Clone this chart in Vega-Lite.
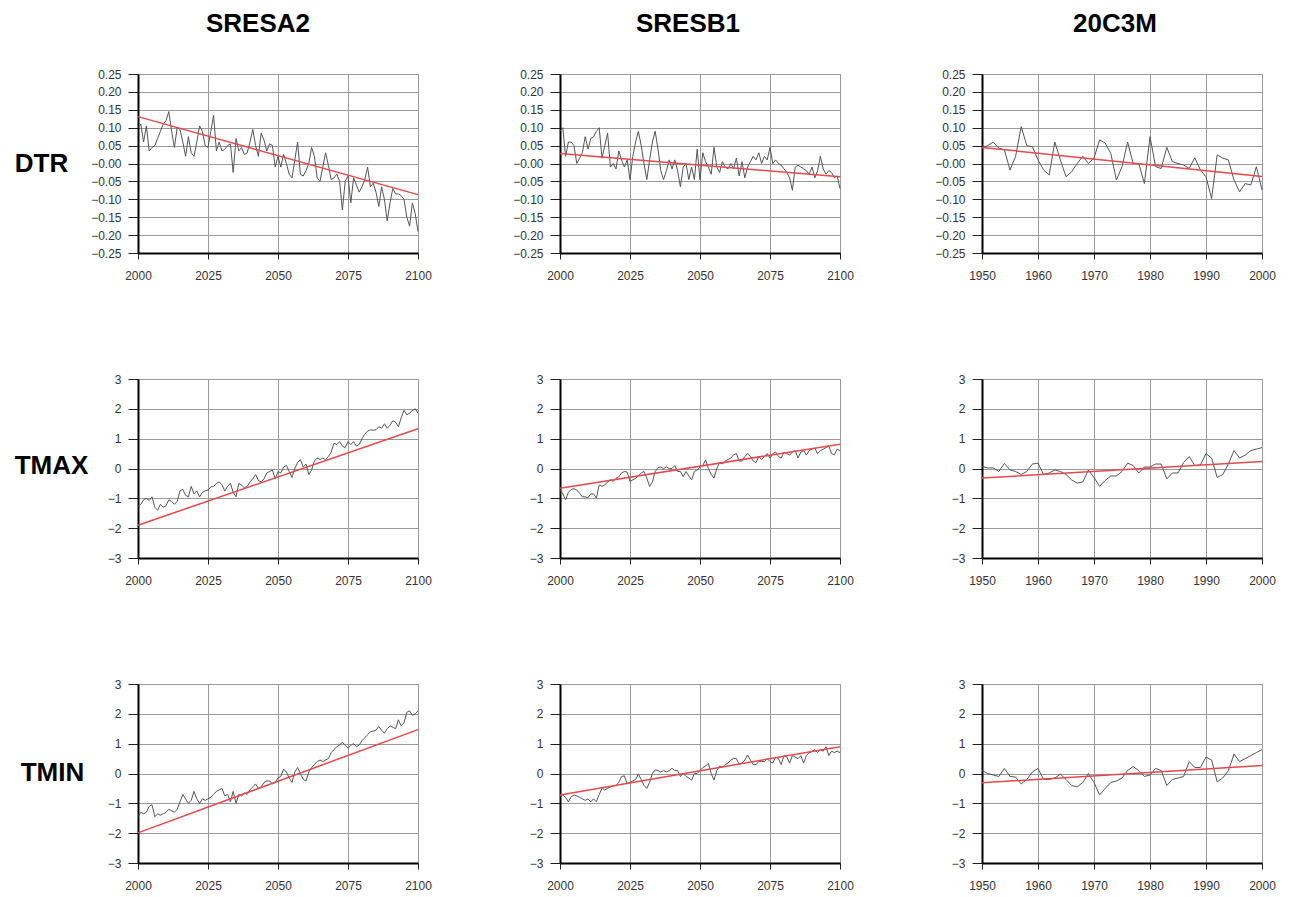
{
"$schema":"https://vega.github.io/schema/vega-lite/v6.json",
"padding":{"left":13,"top":10,"right":5,"bottom":2},
"background":"white",
"columns":3,
"bounds":"flush",
"spacing":{"row":126,"column":142},
"config":{
 "font":"Liberation Sans",
 "view":{"stroke":"#9a9a9a","strokeWidth":1},
 "axis":{"domainColor":"#000","domainWidth":2,"tickColor":"#222","tickWidth":1,"labelColor":"#333","labelFontSize":12,"labelFont":"Liberation Sans","gridColor":"#9a9a9a","gridWidth":1,"grid":true,"labelOverlap":false,"labelFlush":false,"titleFont":"Liberation Sans"},
 "axisX":{"tickSize":6,"labelPadding":11},
 "axisY":{"tickSize":10,"labelPadding":7},
 "title":{"fontSize":26,"fontWeight":"bold","font":"Liberation Sans","color":"#000","offset":31,"frame":"group","anchor":"middle"}
},
"datasets":{
"a2dtr":[{"year":2000,"value":0.10},{"year":2001,"value":0.11},{"year":2002,"value":0.06},{"year":2003,"value":0.105},{"year":2004,"value":0.035},{"year":2005,"value":0.045},{"year":2006,"value":0.05},{"year":2007,"value":0.07},{"year":2008,"value":0.09},{"year":2009,"value":0.11},{"year":2010,"value":0.12},{"year":2011,"value":0.145},{"year":2012,"value":0.09},{"year":2013,"value":0.045},{"year":2014,"value":0.10},{"year":2015,"value":0.095},{"year":2016,"value":0.06},{"year":2017,"value":0.02},{"year":2018,"value":0.075},{"year":2019,"value":0.03},{"year":2020,"value":0.02},{"year":2021,"value":0.06},{"year":2022,"value":0.105},{"year":2023,"value":0.09},{"year":2024,"value":0.05},{"year":2025,"value":0.045},{"year":2026,"value":0.09},{"year":2027,"value":0.135},{"year":2028,"value":0.035},{"year":2029,"value":0.06},{"year":2030,"value":0.035},{"year":2031,"value":0.04},{"year":2032,"value":0.05},{"year":2033,"value":0.055},{"year":2034,"value":-0.025},{"year":2035,"value":0.07},{"year":2036,"value":0.035},{"year":2037,"value":0.045},{"year":2038,"value":0.025},{"year":2039,"value":0.03},{"year":2040,"value":0.06},{"year":2041,"value":0.095},{"year":2042,"value":0.05},{"year":2043,"value":0.02},{"year":2044,"value":0.085},{"year":2045,"value":0.065},{"year":2046,"value":0.035},{"year":2047,"value":0.055},{"year":2048,"value":0.05},{"year":2049,"value":-0.01},{"year":2050,"value":0.02},{"year":2051,"value":-0.01},{"year":2052,"value":0.025},{"year":2053,"value":0.0},{"year":2054,"value":-0.03},{"year":2055,"value":-0.04},{"year":2056,"value":0.01},{"year":2057,"value":0.06},{"year":2058,"value":-0.03},{"year":2059,"value":-0.035},{"year":2060,"value":-0.02},{"year":2061,"value":0.0},{"year":2062,"value":0.045},{"year":2063,"value":0.02},{"year":2064,"value":-0.04},{"year":2065,"value":-0.05},{"year":2066,"value":-0.01},{"year":2067,"value":0.03},{"year":2068,"value":-0.005},{"year":2069,"value":-0.045},{"year":2070,"value":-0.04},{"year":2071,"value":-0.03},{"year":2072,"value":-0.05},{"year":2073,"value":-0.13},{"year":2074,"value":-0.05},{"year":2075,"value":-0.035},{"year":2076,"value":-0.11},{"year":2077,"value":-0.04},{"year":2078,"value":-0.06},{"year":2079,"value":-0.08},{"year":2080,"value":-0.065},{"year":2081,"value":-0.045},{"year":2082,"value":-0.01},{"year":2083,"value":-0.065},{"year":2084,"value":-0.055},{"year":2085,"value":-0.08},{"year":2086,"value":-0.12},{"year":2087,"value":-0.065},{"year":2088,"value":-0.10},{"year":2089,"value":-0.16},{"year":2090,"value":-0.11},{"year":2091,"value":-0.07},{"year":2092,"value":-0.085},{"year":2093,"value":-0.085},{"year":2094,"value":-0.09},{"year":2095,"value":-0.10},{"year":2096,"value":-0.15},{"year":2097,"value":-0.175},{"year":2098,"value":-0.11},{"year":2099,"value":-0.14},{"year":2100,"value":-0.19}],
"b1dtr":[{"year":2000,"value":0.09},{"year":2001,"value":0.10},{"year":2002,"value":0.02},{"year":2003,"value":0.06},{"year":2004,"value":0.06},{"year":2005,"value":0.05},{"year":2006,"value":0.0},{"year":2007,"value":0.015},{"year":2008,"value":0.03},{"year":2009,"value":0.075},{"year":2010,"value":0.04},{"year":2011,"value":0.07},{"year":2012,"value":0.075},{"year":2013,"value":0.09},{"year":2014,"value":0.10},{"year":2015,"value":0.015},{"year":2016,"value":0.05},{"year":2017,"value":0.085},{"year":2018,"value":-0.01},{"year":2019,"value":0.0},{"year":2020,"value":-0.015},{"year":2021,"value":0.035},{"year":2022,"value":0.01},{"year":2023,"value":-0.01},{"year":2024,"value":0.01},{"year":2025,"value":-0.045},{"year":2026,"value":0.02},{"year":2027,"value":0.06},{"year":2028,"value":0.09},{"year":2029,"value":0.05},{"year":2030,"value":0.0},{"year":2031,"value":-0.045},{"year":2032,"value":0.01},{"year":2033,"value":0.06},{"year":2034,"value":0.09},{"year":2035,"value":0.04},{"year":2036,"value":-0.02},{"year":2037,"value":-0.045},{"year":2038,"value":-0.02},{"year":2039,"value":0.01},{"year":2040,"value":-0.015},{"year":2041,"value":0.01},{"year":2042,"value":-0.02},{"year":2043,"value":-0.065},{"year":2044,"value":-0.01},{"year":2045,"value":0.0},{"year":2046,"value":-0.045},{"year":2047,"value":-0.01},{"year":2048,"value":-0.045},{"year":2049,"value":0.04},{"year":2050,"value":-0.045},{"year":2051,"value":0.03},{"year":2052,"value":0.005},{"year":2053,"value":-0.01},{"year":2054,"value":-0.03},{"year":2055,"value":0.045},{"year":2056,"value":-0.01},{"year":2057,"value":-0.025},{"year":2058,"value":0.005},{"year":2059,"value":-0.01},{"year":2060,"value":-0.015},{"year":2061,"value":0.0},{"year":2062,"value":-0.015},{"year":2063,"value":0.015},{"year":2064,"value":-0.035},{"year":2065,"value":0.005},{"year":2066,"value":-0.04},{"year":2067,"value":-0.01},{"year":2068,"value":0.005},{"year":2069,"value":0.02},{"year":2070,"value":0.01},{"year":2071,"value":0.03},{"year":2072,"value":0.0},{"year":2073,"value":0.02},{"year":2074,"value":0.01},{"year":2075,"value":0.045},{"year":2076,"value":0.0},{"year":2077,"value":0.01},{"year":2078,"value":0.0},{"year":2079,"value":-0.005},{"year":2080,"value":-0.015},{"year":2081,"value":-0.025},{"year":2082,"value":-0.04},{"year":2083,"value":-0.075},{"year":2084,"value":-0.01},{"year":2085,"value":-0.005},{"year":2086,"value":-0.01},{"year":2087,"value":-0.015},{"year":2088,"value":-0.02},{"year":2089,"value":-0.03},{"year":2090,"value":-0.01},{"year":2091,"value":-0.04},{"year":2092,"value":-0.02},{"year":2093,"value":0.02},{"year":2094,"value":-0.015},{"year":2095,"value":-0.03},{"year":2096,"value":-0.02},{"year":2097,"value":-0.025},{"year":2098,"value":-0.04},{"year":2099,"value":-0.035},{"year":2100,"value":-0.07}],
"c3dtr":[{"year":1950,"value":0.043},{"year":1951,"value":0.05},{"year":1952,"value":0.06},{"year":1953,"value":0.043},{"year":1954,"value":0.038},{"year":1955,"value":-0.018},{"year":1956,"value":0.02},{"year":1957,"value":0.103},{"year":1958,"value":0.05},{"year":1959,"value":0.047},{"year":1960,"value":0.01},{"year":1961,"value":-0.018},{"year":1962,"value":-0.032},{"year":1963,"value":0.06},{"year":1964,"value":0.01},{"year":1965,"value":-0.037},{"year":1966,"value":-0.023},{"year":1967,"value":0.0},{"year":1968,"value":0.02},{"year":1969,"value":0.0},{"year":1970,"value":0.015},{"year":1971,"value":0.066},{"year":1972,"value":0.057},{"year":1973,"value":0.028},{"year":1974,"value":-0.046},{"year":1975,"value":-0.009},{"year":1976,"value":0.06},{"year":1977,"value":0.0},{"year":1978,"value":0.0},{"year":1979,"value":-0.056},{"year":1980,"value":0.075},{"year":1981,"value":-0.009},{"year":1982,"value":-0.014},{"year":1983,"value":0.045},{"year":1984,"value":0.005},{"year":1985,"value":0.0},{"year":1986,"value":-0.004},{"year":1987,"value":-0.014},{"year":1988,"value":0.016},{"year":1989,"value":-0.018},{"year":1990,"value":-0.037},{"year":1991,"value":-0.098},{"year":1992,"value":0.024},{"year":1993,"value":0.015},{"year":1994,"value":0.01},{"year":1995,"value":-0.046},{"year":1996,"value":-0.079},{"year":1997,"value":-0.056},{"year":1998,"value":-0.06},{"year":1999,"value":-0.009},{"year":2000,"value":-0.074}],
"a2tmax":[{"year":2000,"value":-1.27},{"year":2001,"value":-1.2},{"year":2002,"value":-1.05},{"year":2003,"value":-1.0},{"year":2004,"value":-1.07},{"year":2005,"value":-0.95},{"year":2006,"value":-1.3},{"year":2007,"value":-1.4},{"year":2008,"value":-1.2},{"year":2009,"value":-1.3},{"year":2010,"value":-1.25},{"year":2011,"value":-1.05},{"year":2012,"value":-1.1},{"year":2013,"value":-1.2},{"year":2014,"value":-1.1},{"year":2015,"value":-0.75},{"year":2016,"value":-0.7},{"year":2017,"value":-0.9},{"year":2018,"value":-0.95},{"year":2019,"value":-0.6},{"year":2020,"value":-0.85},{"year":2021,"value":-0.75},{"year":2022,"value":-0.95},{"year":2023,"value":-0.8},{"year":2024,"value":-0.75},{"year":2025,"value":-0.72},{"year":2026,"value":-0.62},{"year":2027,"value":-0.6},{"year":2028,"value":-0.5},{"year":2029,"value":-0.45},{"year":2030,"value":-0.55},{"year":2031,"value":-0.75},{"year":2032,"value":-0.6},{"year":2033,"value":-0.5},{"year":2034,"value":-0.8},{"year":2035,"value":-0.95},{"year":2036,"value":-0.5},{"year":2037,"value":-0.55},{"year":2038,"value":-0.65},{"year":2039,"value":-0.6},{"year":2040,"value":-0.45},{"year":2041,"value":-0.35},{"year":2042,"value":-0.2},{"year":2043,"value":-0.4},{"year":2044,"value":-0.45},{"year":2045,"value":-0.35},{"year":2046,"value":-0.15},{"year":2047,"value":-0.1},{"year":2048,"value":-0.05},{"year":2049,"value":-0.35},{"year":2050,"value":-0.1},{"year":2051,"value":-0.15},{"year":2052,"value":0.05},{"year":2053,"value":0.1},{"year":2054,"value":-0.1},{"year":2055,"value":-0.3},{"year":2056,"value":0.0},{"year":2057,"value":0.2},{"year":2058,"value":0.3},{"year":2059,"value":0.05},{"year":2060,"value":0.15},{"year":2061,"value":-0.2},{"year":2062,"value":-0.05},{"year":2063,"value":0.25},{"year":2064,"value":0.35},{"year":2065,"value":0.3},{"year":2066,"value":0.35},{"year":2067,"value":0.3},{"year":2068,"value":0.4},{"year":2069,"value":0.55},{"year":2070,"value":0.85},{"year":2071,"value":0.8},{"year":2072,"value":0.9},{"year":2073,"value":0.75},{"year":2074,"value":0.7},{"year":2075,"value":0.9},{"year":2076,"value":0.8},{"year":2077,"value":0.9},{"year":2078,"value":0.75},{"year":2079,"value":0.8},{"year":2080,"value":1.0},{"year":2081,"value":1.15},{"year":2082,"value":1.25},{"year":2083,"value":1.3},{"year":2084,"value":1.28},{"year":2085,"value":1.3},{"year":2086,"value":1.4},{"year":2087,"value":1.35},{"year":2088,"value":1.5},{"year":2089,"value":1.35},{"year":2090,"value":1.45},{"year":2091,"value":1.6},{"year":2092,"value":1.55},{"year":2093,"value":1.4},{"year":2094,"value":1.7},{"year":2095,"value":1.95},{"year":2096,"value":1.8},{"year":2097,"value":1.85},{"year":2098,"value":1.95},{"year":2099,"value":2.0},{"year":2100,"value":1.85}],
"b1tmax":[{"year":2000,"value":-0.7},{"year":2001,"value":-0.85},{"year":2002,"value":-1.05},{"year":2003,"value":-0.8},{"year":2004,"value":-0.7},{"year":2005,"value":-0.68},{"year":2006,"value":-0.72},{"year":2007,"value":-0.83},{"year":2008,"value":-0.95},{"year":2009,"value":-0.95},{"year":2010,"value":-0.98},{"year":2011,"value":-0.85},{"year":2012,"value":-0.85},{"year":2013,"value":-0.99},{"year":2014,"value":-0.55},{"year":2015,"value":-0.6},{"year":2016,"value":-0.55},{"year":2017,"value":-0.45},{"year":2018,"value":-0.38},{"year":2019,"value":-0.43},{"year":2020,"value":-0.33},{"year":2021,"value":-0.28},{"year":2022,"value":-0.15},{"year":2023,"value":-0.1},{"year":2024,"value":-0.12},{"year":2025,"value":-0.43},{"year":2026,"value":-0.38},{"year":2027,"value":-0.33},{"year":2028,"value":-0.25},{"year":2029,"value":-0.15},{"year":2030,"value":-0.1},{"year":2031,"value":-0.32},{"year":2032,"value":-0.6},{"year":2033,"value":-0.45},{"year":2034,"value":-0.1},{"year":2035,"value":0.03},{"year":2036,"value":0.05},{"year":2037,"value":0.0},{"year":2038,"value":0.05},{"year":2039,"value":0.0},{"year":2040,"value":0.0},{"year":2041,"value":0.1},{"year":2042,"value":-0.1},{"year":2043,"value":-0.1},{"year":2044,"value":-0.27},{"year":2045,"value":-0.1},{"year":2046,"value":-0.25},{"year":2047,"value":-0.38},{"year":2048,"value":-0.1},{"year":2049,"value":-0.05},{"year":2050,"value":0.05},{"year":2051,"value":0.1},{"year":2052,"value":0.29},{"year":2053,"value":0.0},{"year":2054,"value":-0.2},{"year":2055,"value":-0.32},{"year":2056,"value":0.0},{"year":2057,"value":0.2},{"year":2058,"value":0.15},{"year":2059,"value":0.25},{"year":2060,"value":0.3},{"year":2061,"value":0.35},{"year":2062,"value":0.46},{"year":2063,"value":0.5},{"year":2064,"value":0.25},{"year":2065,"value":0.25},{"year":2066,"value":0.4},{"year":2067,"value":0.51},{"year":2068,"value":0.4},{"year":2069,"value":0.25},{"year":2070,"value":0.2},{"year":2071,"value":0.4},{"year":2072,"value":0.3},{"year":2073,"value":0.4},{"year":2074,"value":0.5},{"year":2075,"value":0.35},{"year":2076,"value":0.5},{"year":2077,"value":0.55},{"year":2078,"value":0.4},{"year":2079,"value":0.35},{"year":2080,"value":0.55},{"year":2081,"value":0.5},{"year":2082,"value":0.45},{"year":2083,"value":0.55},{"year":2084,"value":0.6},{"year":2085,"value":0.35},{"year":2086,"value":0.55},{"year":2087,"value":0.6},{"year":2088,"value":0.45},{"year":2089,"value":0.6},{"year":2090,"value":0.65},{"year":2091,"value":0.68},{"year":2092,"value":0.5},{"year":2093,"value":0.6},{"year":2094,"value":0.65},{"year":2095,"value":0.7},{"year":2096,"value":0.75},{"year":2097,"value":0.5},{"year":2098,"value":0.46},{"year":2099,"value":0.65},{"year":2100,"value":0.6}],
"c3tmax":[{"year":1950,"value":0.07},{"year":1951,"value":0.02},{"year":1952,"value":0.02},{"year":1953,"value":-0.1},{"year":1954,"value":0.17},{"year":1955,"value":-0.05},{"year":1956,"value":-0.1},{"year":1957,"value":-0.2},{"year":1958,"value":-0.1},{"year":1959,"value":0.15},{"year":1960,"value":0.18},{"year":1961,"value":-0.2},{"year":1962,"value":-0.15},{"year":1963,"value":-0.05},{"year":1964,"value":-0.1},{"year":1965,"value":-0.2},{"year":1966,"value":-0.38},{"year":1967,"value":-0.49},{"year":1968,"value":-0.45},{"year":1969,"value":-0.05},{"year":1970,"value":-0.3},{"year":1971,"value":-0.6},{"year":1972,"value":-0.4},{"year":1973,"value":-0.25},{"year":1974,"value":-0.25},{"year":1975,"value":-0.1},{"year":1976,"value":0.18},{"year":1977,"value":0.1},{"year":1978,"value":-0.15},{"year":1979,"value":0.05},{"year":1980,"value":0.05},{"year":1981,"value":0.15},{"year":1982,"value":0.15},{"year":1983,"value":-0.35},{"year":1984,"value":-0.15},{"year":1985,"value":-0.15},{"year":1986,"value":0.2},{"year":1987,"value":0.4},{"year":1988,"value":0.1},{"year":1989,"value":0.12},{"year":1990,"value":0.5},{"year":1991,"value":0.35},{"year":1992,"value":-0.3},{"year":1993,"value":-0.2},{"year":1994,"value":0.15},{"year":1995,"value":0.6},{"year":1996,"value":0.35},{"year":1997,"value":0.45},{"year":1998,"value":0.6},{"year":1999,"value":0.65},{"year":2000,"value":0.7}],
"a2tmin":[{"year":2000,"value":-1.45},{"year":2001,"value":-1.3},{"year":2002,"value":-1.35},{"year":2003,"value":-1.3},{"year":2004,"value":-1.1},{"year":2005,"value":-1.05},{"year":2006,"value":-1.45},{"year":2007,"value":-1.35},{"year":2008,"value":-1.4},{"year":2009,"value":-1.35},{"year":2010,"value":-1.3},{"year":2011,"value":-1.2},{"year":2012,"value":-1.25},{"year":2013,"value":-1.3},{"year":2014,"value":-1.2},{"year":2015,"value":-0.95},{"year":2016,"value":-0.7},{"year":2017,"value":-0.85},{"year":2018,"value":-1.0},{"year":2019,"value":-0.9},{"year":2020,"value":-0.6},{"year":2021,"value":-0.85},{"year":2022,"value":-1.0},{"year":2023,"value":-0.85},{"year":2024,"value":-0.9},{"year":2025,"value":-0.85},{"year":2026,"value":-0.8},{"year":2027,"value":-0.7},{"year":2028,"value":-0.6},{"year":2029,"value":-0.55},{"year":2030,"value":-0.5},{"year":2031,"value":-0.75},{"year":2032,"value":-0.7},{"year":2033,"value":-0.95},{"year":2034,"value":-0.6},{"year":2035,"value":-1.0},{"year":2036,"value":-0.7},{"year":2037,"value":-0.75},{"year":2038,"value":-0.65},{"year":2039,"value":-0.7},{"year":2040,"value":-0.55},{"year":2041,"value":-0.45},{"year":2042,"value":-0.35},{"year":2043,"value":-0.5},{"year":2044,"value":-0.45},{"year":2045,"value":-0.3},{"year":2046,"value":-0.25},{"year":2047,"value":-0.25},{"year":2048,"value":-0.35},{"year":2049,"value":-0.3},{"year":2050,"value":-0.15},{"year":2051,"value":-0.1},{"year":2052,"value":0.15},{"year":2053,"value":0.05},{"year":2054,"value":-0.15},{"year":2055,"value":-0.3},{"year":2056,"value":0.05},{"year":2057,"value":0.2},{"year":2058,"value":0.0},{"year":2059,"value":-0.2},{"year":2060,"value":-0.25},{"year":2061,"value":0.05},{"year":2062,"value":0.2},{"year":2063,"value":0.3},{"year":2064,"value":0.4},{"year":2065,"value":0.45},{"year":2066,"value":0.4},{"year":2067,"value":0.45},{"year":2068,"value":0.5},{"year":2069,"value":0.7},{"year":2070,"value":0.8},{"year":2071,"value":0.9},{"year":2072,"value":0.95},{"year":2073,"value":1.05},{"year":2074,"value":0.95},{"year":2075,"value":0.85},{"year":2076,"value":0.95},{"year":2077,"value":1.0},{"year":2078,"value":0.9},{"year":2079,"value":0.95},{"year":2080,"value":1.1},{"year":2081,"value":1.2},{"year":2082,"value":1.3},{"year":2083,"value":1.4},{"year":2084,"value":1.42},{"year":2085,"value":1.45},{"year":2086,"value":1.58},{"year":2087,"value":1.45},{"year":2088,"value":1.35},{"year":2089,"value":1.5},{"year":2090,"value":1.6},{"year":2091,"value":1.55},{"year":2092,"value":1.5},{"year":2093,"value":1.8},{"year":2094,"value":1.6},{"year":2095,"value":1.7},{"year":2096,"value":2.05},{"year":2097,"value":2.1},{"year":2098,"value":1.95},{"year":2099,"value":2.0},{"year":2100,"value":2.1}],
"b1tmin":[{"year":2000,"value":-0.75},{"year":2001,"value":-0.72},{"year":2002,"value":-0.8},{"year":2003,"value":-0.95},{"year":2004,"value":-0.78},{"year":2005,"value":-0.72},{"year":2006,"value":-0.75},{"year":2007,"value":-0.8},{"year":2008,"value":-0.85},{"year":2009,"value":-0.9},{"year":2010,"value":-0.85},{"year":2011,"value":-0.95},{"year":2012,"value":-0.85},{"year":2013,"value":-0.95},{"year":2014,"value":-0.7},{"year":2015,"value":-0.5},{"year":2016,"value":-0.55},{"year":2017,"value":-0.5},{"year":2018,"value":-0.45},{"year":2019,"value":-0.42},{"year":2020,"value":-0.4},{"year":2021,"value":-0.3},{"year":2022,"value":-0.1},{"year":2023,"value":-0.08},{"year":2024,"value":-0.35},{"year":2025,"value":-0.3},{"year":2026,"value":-0.25},{"year":2027,"value":-0.2},{"year":2028,"value":-0.02},{"year":2029,"value":-0.2},{"year":2030,"value":-0.4},{"year":2031,"value":-0.5},{"year":2032,"value":-0.3},{"year":2033,"value":0.0},{"year":2034,"value":0.12},{"year":2035,"value":0.1},{"year":2036,"value":0.05},{"year":2037,"value":0.1},{"year":2038,"value":0.05},{"year":2039,"value":0.1},{"year":2040,"value":0.17},{"year":2041,"value":0.1},{"year":2042,"value":0.1},{"year":2043,"value":-0.1},{"year":2044,"value":0.0},{"year":2045,"value":-0.1},{"year":2046,"value":-0.15},{"year":2047,"value":-0.22},{"year":2048,"value":0.0},{"year":2049,"value":0.0},{"year":2050,"value":0.1},{"year":2051,"value":0.2},{"year":2052,"value":0.25},{"year":2053,"value":0.34},{"year":2054,"value":0.0},{"year":2055,"value":-0.22},{"year":2056,"value":0.1},{"year":2057,"value":0.25},{"year":2058,"value":0.2},{"year":2059,"value":0.3},{"year":2060,"value":0.35},{"year":2061,"value":0.45},{"year":2062,"value":0.51},{"year":2063,"value":0.5},{"year":2064,"value":0.3},{"year":2065,"value":0.35},{"year":2066,"value":0.45},{"year":2067,"value":0.62},{"year":2068,"value":0.45},{"year":2069,"value":0.3},{"year":2070,"value":0.3},{"year":2071,"value":0.4},{"year":2072,"value":0.4},{"year":2073,"value":0.4},{"year":2074,"value":0.5},{"year":2075,"value":0.4},{"year":2076,"value":0.35},{"year":2077,"value":0.55},{"year":2078,"value":0.5},{"year":2079,"value":0.3},{"year":2080,"value":0.6},{"year":2081,"value":0.55},{"year":2082,"value":0.35},{"year":2083,"value":0.6},{"year":2084,"value":0.55},{"year":2085,"value":0.5},{"year":2086,"value":0.6},{"year":2087,"value":0.35},{"year":2088,"value":0.6},{"year":2089,"value":0.7},{"year":2090,"value":0.74},{"year":2091,"value":0.8},{"year":2092,"value":0.7},{"year":2093,"value":0.8},{"year":2094,"value":0.75},{"year":2095,"value":0.9},{"year":2096,"value":0.6},{"year":2097,"value":0.75},{"year":2098,"value":0.7},{"year":2099,"value":0.75},{"year":2100,"value":0.7}],
"c3tmin":[{"year":1950,"value":0.1},{"year":1951,"value":0.0},{"year":1952,"value":-0.05},{"year":1953,"value":-0.1},{"year":1954,"value":0.17},{"year":1955,"value":-0.1},{"year":1956,"value":-0.12},{"year":1957,"value":-0.35},{"year":1958,"value":-0.2},{"year":1959,"value":0.05},{"year":1960,"value":0.17},{"year":1961,"value":-0.2},{"year":1962,"value":-0.2},{"year":1963,"value":-0.15},{"year":1964,"value":-0.02},{"year":1965,"value":-0.2},{"year":1966,"value":-0.4},{"year":1967,"value":-0.45},{"year":1968,"value":-0.3},{"year":1969,"value":0.0},{"year":1970,"value":-0.3},{"year":1971,"value":-0.72},{"year":1972,"value":-0.5},{"year":1973,"value":-0.3},{"year":1974,"value":-0.25},{"year":1975,"value":-0.15},{"year":1976,"value":0.1},{"year":1977,"value":0.23},{"year":1978,"value":0.1},{"year":1979,"value":-0.1},{"year":1980,"value":-0.05},{"year":1981,"value":0.17},{"year":1982,"value":0.1},{"year":1983,"value":-0.4},{"year":1984,"value":-0.2},{"year":1985,"value":-0.15},{"year":1986,"value":-0.1},{"year":1987,"value":0.4},{"year":1988,"value":0.2},{"year":1989,"value":0.2},{"year":1990,"value":0.55},{"year":1991,"value":0.45},{"year":1992,"value":-0.28},{"year":1993,"value":-0.15},{"year":1994,"value":0.1},{"year":1995,"value":0.65},{"year":1996,"value":0.4},{"year":1997,"value":0.5},{"year":1998,"value":0.6},{"year":1999,"value":0.7},{"year":2000,"value":0.8}],
"trend":[{"panel":"a2dtr","year":2000,"value":0.131},{"panel":"a2dtr","year":2100,"value":-0.087},{"panel":"b1dtr","year":2000,"value":0.028},{"panel":"b1dtr","year":2100,"value":-0.037},{"panel":"c3dtr","year":1950,"value":0.045},{"panel":"c3dtr","year":2000,"value":-0.036},{"panel":"a2tmax","year":2000,"value":-1.9},{"panel":"a2tmax","year":2100,"value":1.33},{"panel":"b1tmax","year":2000,"value":-0.66},{"panel":"b1tmax","year":2100,"value":0.815},{"panel":"c3tmax","year":1950,"value":-0.32},{"panel":"c3tmax","year":2000,"value":0.235},{"panel":"a2tmin","year":2000,"value":-1.99},{"panel":"a2tmin","year":2100,"value":1.47},{"panel":"b1tmin","year":2000,"value":-0.72},{"panel":"b1tmin","year":2100,"value":0.9},{"panel":"c3tmin","year":1950,"value":-0.31},{"panel":"c3tmin","year":2000,"value":0.27}]
},
"concat":[
{"width":280,"height":179,"title":{"text":"SRESA2","dx":-20},
 "encoding":{"x":{"field":"year","type":"quantitative","scale":{"domain":[2000,2100],"nice":false,"zero":false},"axis":{"values":[2000,2025,2050,2075,2100],"format":"d","title":null}},
  "y":{"field":"value","type":"quantitative","scale":{"domain":[-0.25,0.25],"nice":false},"axis":{"values":[-0.25,-0.2,-0.15,-0.1,-0.05,0,0.05,0.1,0.15,0.2,0.25],"labelExpr":"abs(datum.value) < 0.001 ? '−0.00' : format(datum.value, '.2f')","title":"DTR","titleAngle":0,"titleFontSize":26,"titleFontWeight":"bold","titleColor":"#000","titleAlign":"center","titleBaseline":"middle","titleX":-97,"titleY":89}}},
 "layer":[{"data":{"name":"a2dtr"},"mark":{"type":"line","color":"#555","strokeWidth":1}},{"data":{"name":"trend"},"transform":[{"filter":"datum.panel === 'a2dtr'"}],"mark":{"type":"line","color":"#e5484d","strokeWidth":1.5}}]},
{"width":280,"height":179,"title":{"text":"SRESB1","dx":-12},
 "encoding":{"x":{"field":"year","type":"quantitative","scale":{"domain":[2000,2100],"nice":false,"zero":false},"axis":{"values":[2000,2025,2050,2075,2100],"format":"d","title":null}},
  "y":{"field":"value","type":"quantitative","scale":{"domain":[-0.25,0.25],"nice":false},"axis":{"values":[-0.25,-0.2,-0.15,-0.1,-0.05,0,0.05,0.1,0.15,0.2,0.25],"labelExpr":"abs(datum.value) < 0.001 ? '−0.00' : format(datum.value, '.2f')","title":null}}},
 "layer":[{"data":{"name":"b1dtr"},"mark":{"type":"line","color":"#555","strokeWidth":1}},{"data":{"name":"trend"},"transform":[{"filter":"datum.panel === 'b1dtr'"}],"mark":{"type":"line","color":"#e5484d","strokeWidth":1.5}}]},
{"width":280,"height":179,"title":{"text":"20C3M","dx":-7},
 "encoding":{"x":{"field":"year","type":"quantitative","scale":{"domain":[1950,2000],"nice":false,"zero":false},"axis":{"values":[1950,1960,1970,1980,1990,2000],"format":"d","title":null}},
  "y":{"field":"value","type":"quantitative","scale":{"domain":[-0.25,0.25],"nice":false},"axis":{"values":[-0.25,-0.2,-0.15,-0.1,-0.05,0,0.05,0.1,0.15,0.2,0.25],"labelExpr":"abs(datum.value) < 0.001 ? '−0.00' : format(datum.value, '.2f')","title":null}}},
 "layer":[{"data":{"name":"c3dtr"},"mark":{"type":"line","color":"#555","strokeWidth":1}},{"data":{"name":"trend"},"transform":[{"filter":"datum.panel === 'c3dtr'"}],"mark":{"type":"line","color":"#e5484d","strokeWidth":1.5}}]},
{"width":280,"height":179,
 "encoding":{"x":{"field":"year","type":"quantitative","scale":{"domain":[2000,2100],"nice":false,"zero":false},"axis":{"values":[2000,2025,2050,2075,2100],"format":"d","title":null}},
  "y":{"field":"value","type":"quantitative","scale":{"domain":[-3,3],"nice":false},"axis":{"values":[-3,-2,-1,0,1,2,3],"format":"d","title":"TMAX","titleAngle":0,"titleFontSize":26,"titleFontWeight":"bold","titleColor":"#000","titleAlign":"center","titleBaseline":"middle","titleX":-87,"titleY":86}}},
 "layer":[{"data":{"name":"a2tmax"},"mark":{"type":"line","color":"#555","strokeWidth":1}},{"data":{"name":"trend"},"transform":[{"filter":"datum.panel === 'a2tmax'"}],"mark":{"type":"line","color":"#e5484d","strokeWidth":1.5}}]},
{"width":280,"height":179,
 "encoding":{"x":{"field":"year","type":"quantitative","scale":{"domain":[2000,2100],"nice":false,"zero":false},"axis":{"values":[2000,2025,2050,2075,2100],"format":"d","title":null}},
  "y":{"field":"value","type":"quantitative","scale":{"domain":[-3,3],"nice":false},"axis":{"values":[-3,-2,-1,0,1,2,3],"format":"d","title":null}}},
 "layer":[{"data":{"name":"b1tmax"},"mark":{"type":"line","color":"#555","strokeWidth":1}},{"data":{"name":"trend"},"transform":[{"filter":"datum.panel === 'b1tmax'"}],"mark":{"type":"line","color":"#e5484d","strokeWidth":1.5}}]},
{"width":280,"height":179,
 "encoding":{"x":{"field":"year","type":"quantitative","scale":{"domain":[1950,2000],"nice":false,"zero":false},"axis":{"values":[1950,1960,1970,1980,1990,2000],"format":"d","title":null}},
  "y":{"field":"value","type":"quantitative","scale":{"domain":[-3,3],"nice":false},"axis":{"values":[-3,-2,-1,0,1,2,3],"format":"d","title":null}}},
 "layer":[{"data":{"name":"c3tmax"},"mark":{"type":"line","color":"#555","strokeWidth":1}},{"data":{"name":"trend"},"transform":[{"filter":"datum.panel === 'c3tmax'"}],"mark":{"type":"line","color":"#e5484d","strokeWidth":1.5}}]},
{"width":280,"height":179,
 "encoding":{"x":{"field":"year","type":"quantitative","scale":{"domain":[2000,2100],"nice":false,"zero":false},"axis":{"values":[2000,2025,2050,2075,2100],"format":"d","title":null}},
  "y":{"field":"value","type":"quantitative","scale":{"domain":[-3,3],"nice":false},"axis":{"values":[-3,-2,-1,0,1,2,3],"format":"d","title":"TMIN","titleAngle":0,"titleFontSize":26,"titleFontWeight":"bold","titleColor":"#000","titleAlign":"center","titleBaseline":"middle","titleX":-86,"titleY":88}}},
 "layer":[{"data":{"name":"a2tmin"},"mark":{"type":"line","color":"#555","strokeWidth":1}},{"data":{"name":"trend"},"transform":[{"filter":"datum.panel === 'a2tmin'"}],"mark":{"type":"line","color":"#e5484d","strokeWidth":1.5}}]},
{"width":280,"height":179,
 "encoding":{"x":{"field":"year","type":"quantitative","scale":{"domain":[2000,2100],"nice":false,"zero":false},"axis":{"values":[2000,2025,2050,2075,2100],"format":"d","title":null}},
  "y":{"field":"value","type":"quantitative","scale":{"domain":[-3,3],"nice":false},"axis":{"values":[-3,-2,-1,0,1,2,3],"format":"d","title":null}}},
 "layer":[{"data":{"name":"b1tmin"},"mark":{"type":"line","color":"#555","strokeWidth":1}},{"data":{"name":"trend"},"transform":[{"filter":"datum.panel === 'b1tmin'"}],"mark":{"type":"line","color":"#e5484d","strokeWidth":1.5}}]},
{"width":280,"height":179,
 "encoding":{"x":{"field":"year","type":"quantitative","scale":{"domain":[1950,2000],"nice":false,"zero":false},"axis":{"values":[1950,1960,1970,1980,1990,2000],"format":"d","title":null}},
  "y":{"field":"value","type":"quantitative","scale":{"domain":[-3,3],"nice":false},"axis":{"values":[-3,-2,-1,0,1,2,3],"format":"d","title":null}}},
 "layer":[{"data":{"name":"c3tmin"},"mark":{"type":"line","color":"#555","strokeWidth":1}},{"data":{"name":"trend"},"transform":[{"filter":"datum.panel === 'c3tmin'"}],"mark":{"type":"line","color":"#e5484d","strokeWidth":1.5}}]}
]
}
